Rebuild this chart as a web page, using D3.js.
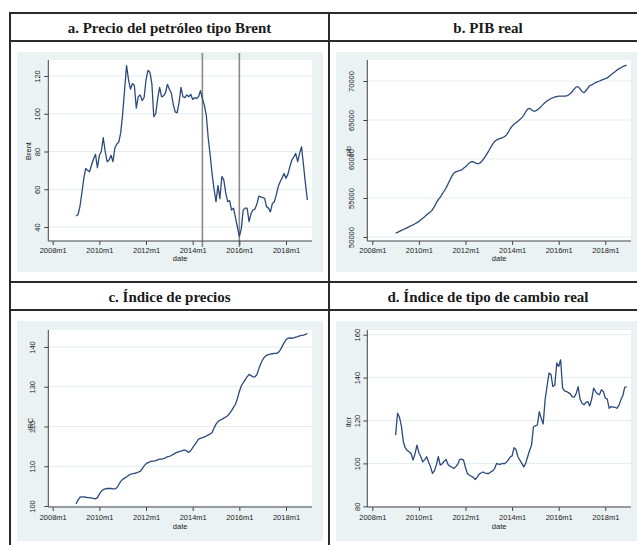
<!DOCTYPE html>
<html><head><meta charset="utf-8">
<script src="https://cdn.jsdelivr.net/npm/d3@7"></script>
<style>body{margin:0;background:#fff}svg{display:block}</style>
</head><body>
<svg id="chart" width="637" height="545"></svg>
<script>
// ---------- data ----------
const firstMonth = "2009m1";
const xTickLabels = ["2008m1","2010m1","2012m1","2014m1","2016m1","2018m1"];
const panelTitles = ["a. Precio del petróleo tipo Brent","b. PIB real","c. Índice de precios","d. Índice de tipo de cambio real"];
const yTitles = ["Brent","pib","IPC","itcr"];
const xTitle = "date";
const yTicksBrent = [40,60,80,100,120];
const yTicksPib = [50000,55000,60000,65000,70000];
const yTicksIpc = [100,110,120,130,140];
const yTicksItcr = [80,100,120,140,160];
const brentMarkers = ["2014m6","2016m1"];

const brent = [
 45.8,46.5,50.8,58.0,65.8,71.0,70.0,69.3,73.0,76.0,78.5,71.4,
 78.0,80.0,87.3,80.0,74.6,75.5,78.0,74.6,82.0,84.0,85.0,90.0,
 100.0,113.0,125.5,118.0,113.0,116.0,115.0,103.0,109.0,110.0,107.0,108.5,
 118.0,123.0,122.0,116.0,98.4,100.0,108.0,114.0,109.0,109.5,111.0,115.6,
 113.0,111.0,105.0,101.0,100.5,106.0,114.0,109.0,108.5,110.0,109.0,110.3,
 107.6,108.5,108.0,109.0,112.2,108.0,104.6,99.3,87.0,78.0,68.0,60.0,
 53.4,62.0,55.0,66.7,65.0,58.0,53.4,54.0,49.0,50.0,45.0,40.0,
 35.0,39.0,49.0,50.0,50.0,42.8,47.0,49.0,49.5,52.0,56.4,56.0,
 55.5,55.2,50.8,50.0,48.0,52.5,53.4,57.0,61.4,64.0,66.0,68.4,
 65.8,68.0,72.0,75.5,77.0,79.0,74.6,79.0,82.5,72.8,63.0,54.3
];
const pib = [
 50480,50600,50720,50840,50960,51080,51200,51320,51440,51560,51700,51850,
 52000,52200,52400,52600,52850,53050,53250,53500,53900,54400,54800,55100,
 55500,55900,56300,56800,57300,57800,58200,58350,58450,58500,58600,58800,
 59000,59250,59500,59650,59650,59500,59400,59420,59600,59900,60250,60650,
 61050,61500,61900,62250,62450,62550,62650,62750,62850,63050,63400,63850,
 64200,64450,64650,64850,65050,65300,65600,66050,66400,66500,66300,66150,
 66150,66300,66500,66750,67000,67250,67450,67600,67750,67850,67950,68000,
 68050,68050,68050,68050,68080,68200,68400,68650,68950,69250,69250,69000,
 68650,68500,68750,69100,69400,69500,69650,69800,69900,70000,70100,70200,
 70300,70400,70600,70800,71000,71200,71400,71550,71700,71850,71950,72050
];
const ipc = [
 100.5,101.5,102.2,102.3,102.3,102.2,102.1,102.1,102.0,101.9,101.8,102.1,
 103.0,103.7,104.1,104.3,104.4,104.4,104.4,104.3,104.3,104.6,105.4,106.2,
 106.7,107.0,107.3,107.7,108.0,108.1,108.2,108.3,108.5,108.7,109.3,110.1,
 110.6,110.9,111.1,111.3,111.3,111.4,111.6,111.8,111.8,111.9,112.1,112.4,
 112.5,112.7,113.0,113.3,113.5,113.7,113.8,114.0,114.1,113.8,113.5,113.9,
 114.7,115.4,116.1,116.8,117.0,117.2,117.4,117.6,117.9,118.1,118.5,119.6,
 120.6,121.2,121.6,121.8,122.1,122.4,122.7,123.3,124.0,124.8,125.6,127.0,
 128.8,130.2,131.0,131.8,132.5,133.1,132.8,132.5,132.5,133.0,134.5,135.8,
 136.8,137.5,137.9,138.1,138.2,138.3,138.4,138.4,138.6,139.2,140.1,141.1,
 141.8,142.2,142.3,142.2,142.3,142.5,142.6,142.8,142.9,143.0,143.2,143.4
];
const itcr = [
 113.2,123.4,121.5,117.4,110.0,107.2,106.0,105.4,104.5,101.5,104.5,108.5,
 105.0,103.1,100.7,101.8,103.1,100.5,98.4,95.3,96.5,99.2,103.1,99.2,
 99.8,101.0,101.8,99.5,98.7,98.2,97.6,98.5,99.6,101.8,102.0,101.5,
 98.0,95.3,94.5,94.0,93.5,92.5,93.5,95.0,95.5,96.0,95.5,95.3,
 95.3,96.0,96.5,97.6,100.0,99.6,99.6,100.0,99.8,100.5,101.5,103.0,
 103.5,107.3,106.5,103.1,101.5,100.0,98.4,100.0,103.1,106.0,108.5,117.1,
 117.5,117.9,124.1,121.0,118.4,129.6,136.0,142.1,141.5,135.8,136.6,146.8,
 145.2,148.3,135.1,133.8,133.5,133.0,132.4,131.0,130.9,132.5,135.8,130.0,
 128.0,127.3,128.5,128.8,126.8,130.0,135.1,133.5,132.4,132.0,134.3,133.5,
 130.4,130.0,125.7,126.5,126.2,126.2,125.7,127.0,129.6,131.5,135.5,135.8
];

// ---------- helpers ----------
const mIndex = s => { const [y,m] = s.split("m").map(Number); return (y-2008)*12 + (m-1); };
const start = mIndex(firstMonth);
const xTickVals = xTickLabels.map(mIndex);

const svg = d3.select("#chart");
svg.append("rect").attr("width",637).attr("height",545).attr("fill","#fff");

const panels = [
 {data:brent, ticks:yTicksBrent, bg:[17,52,306,220], plot:[48.3,60,312,241], xr:[52.7,286], yr:[227,76], ytl:37.7, yt:[28,151], xl:250.7, dt:258.3, markers:brentMarkers},
 {data:pib, ticks:yTicksPib, bg:[336,52,306,220], plot:[367.3,60,631,241], xr:[372.3,605.3], yr:[237,81], ytl:351, yt:[348.5,151], xl:250.7, dt:258.3, markers:[]},
 {data:ipc, ticks:yTicksIpc, bg:[17,321,306,220], plot:[48.3,330,312,507], xr:[52.7,286], yr:[506,347], ytl:32, yt:[30,424], xl:517.3, dt:526, markers:[]},
 {data:itcr, ticks:yTicksItcr, bg:[336,321,306,220], plot:[367.3,330,631,507], xr:[372.3,605.3], yr:[506.3,334.7], ytl:357, yt:[348,422], xl:517.3, dt:526, markers:[]}
];

const labelFont = "'Liberation Sans', Arial, sans-serif";

panels.forEach((p,k) => {
  const g = svg.append("g");
  const [bx,by,bw,bh] = p.bg;
  const [pl,pt,pr,pb] = p.plot;
  g.append("rect").attr("x",bx).attr("y",by).attr("width",bw).attr("height",bh).attr("fill","#eaf2f3");
  g.append("rect").attr("x",pl).attr("y",pt).attr("width",pr-pl).attr("height",pb-pt).attr("fill","#fff");

  const x = d3.scaleLinear().domain([xTickVals[0], xTickVals[xTickVals.length-1]]).range(p.xr);
  const y = d3.scaleLinear().domain([p.ticks[0], p.ticks[p.ticks.length-1]]).range(p.yr);

  // grid
  g.selectAll("line.grid").data(p.ticks).join("line")
    .attr("x1",pl).attr("x2",pr).attr("y1",d=>y(d)).attr("y2",d=>y(d))
    .attr("stroke","#e3edf0").attr("stroke-width",1);

  // marker lines
  g.selectAll("line.mk").data(p.markers).join("line")
    .attr("x1",d=>x(mIndex(d))).attr("x2",d=>x(mIndex(d)))
    .attr("y1",by+1).attr("y2",pb+6)
    .attr("stroke","#8a8a8a").attr("stroke-width",1.6);

  // series
  const line = d3.line().x((d,i)=>x(start+i)).y(d=>y(d));
  g.append("path").datum(p.data).attr("d",line)
    .attr("fill","none").attr("stroke","#2c4a7c").attr("stroke-width",1.3).attr("stroke-linejoin","round");

  // x axis
  const xa = g.append("g").attr("transform",`translate(0,${pb})`)
    .call(d3.axisBottom(x).tickValues(xTickVals).tickFormat((d,i)=>xTickLabels[i]).tickSize(4).tickSizeOuter(0));
  xa.select(".domain").attr("d",`M${pl},0H${pr}`).attr("stroke","#444");
  xa.selectAll(".tick line").attr("stroke","#444");
  xa.selectAll(".tick text").attr("y", p.xl - pb).attr("dy","0.35em")
    .attr("font-family",labelFont).attr("font-size",7.5).attr("fill","#222");

  // y axis
  const ya = g.append("g").attr("transform",`translate(${pl},0)`)
    .call(d3.axisLeft(y).tickValues(p.ticks).tickFormat(d3.format("d")).tickSize(4).tickSizeOuter(0));
  ya.select(".domain").attr("d",`M0,${pt}V${pb}`).attr("stroke","#444");
  ya.selectAll(".tick line").attr("stroke","#444");
  ya.selectAll(".tick text")
    .attr("x",null).attr("dy",null)
    .attr("transform",`translate(${p.ytl-pl},0) rotate(-90)`)
    .attr("text-anchor","middle").attr("dominant-baseline","central")
    .attr("font-family",labelFont).attr("font-size",7.5).attr("fill","#222");
  ya.attr("text-anchor",null);

  // axis titles
  g.append("text").attr("transform",`translate(${p.yt[0]},${p.yt[1]}) rotate(-90)`)
    .attr("text-anchor","middle").attr("dominant-baseline","central")
    .attr("font-family",labelFont).attr("font-size",7.5).attr("fill","#222").text(yTitles[k]);
  g.append("text").attr("x",(pl+pr)/2).attr("y",p.dt).attr("dy","0.35em")
    .attr("text-anchor","middle").attr("font-family",labelFont).attr("font-size",7.5).attr("fill","#222").text(xTitle);
});

// table frame + titles
const frame = svg.append("g").attr("stroke","#2a2a2a").attr("stroke-width",2);
[13,41,282,310].forEach(yy => frame.append("line").attr("x1",9).attr("x2",637).attr("y1",yy).attr("y2",yy));
[10,329].forEach(xx => frame.append("line").attr("x1",xx).attr("x2",xx).attr("y1",12).attr("y2",545));

const titlePos = [[169.5,33],[488,33],[169.5,302],[488,302]];
panelTitles.forEach((t,i) => {
  svg.append("text").attr("x",titlePos[i][0]).attr("y",titlePos[i][1])
    .attr("text-anchor","middle").attr("font-family","'Liberation Serif','Times New Roman',serif")
    .attr("font-weight","bold").attr("font-size",15).attr("fill","#1a1a1a").text(t);
});
</script>
</body></html>
